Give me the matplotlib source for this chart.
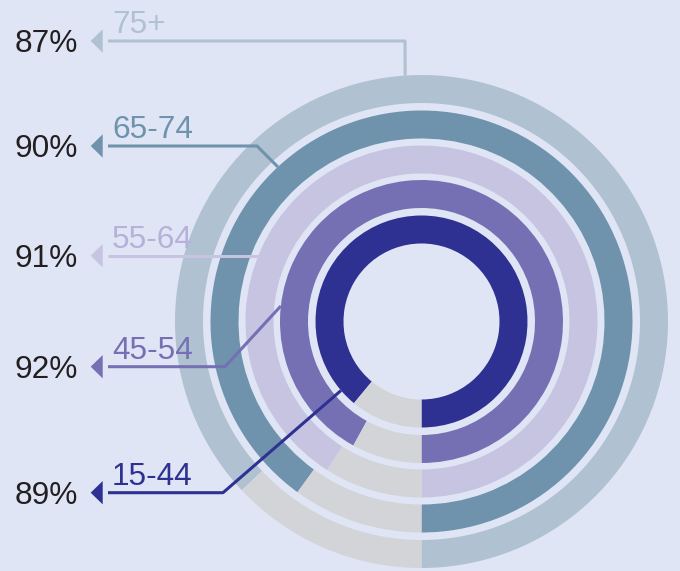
import numpy as np
import matplotlib.pyplot as plt
from matplotlib.patches import Wedge, Polygon

plt.rcParams['font.family'] = ['Liberation Sans', 'DejaVu Sans']

## data
groups = ['75+', '65-74', '55-64', '45-54', '15-44']
pcts = [87, 90, 91, 92, 89]
colors = ['#b0c1d1', '#6f93ad', '#c7c4e2', '#7570b4', '#2e3192']
label_colors = ['#b0c1d1', '#6f93ad', '#b5b1da', '#7570b4', '#2e3192']
rest_color = '#d3d4d8'
bg = '#dfe5f4'

W, H = 680, 571
cx, cy = 421.5, H - 321.5
r_outer = [246.5, 211, 176, 141.5, 106]
ring_w = 28

# leader layout (pixel rows from top)
line_y = [41, 146, 255.7, 366.7, 492.7]
elbow_x = [405, 257, None, 225, 223]
end_ang = [93.8, 132.9, None, 173.7, 220.6]

fig = plt.figure(figsize=(6.8, 5.71), dpi=100, facecolor=bg)
ax = fig.add_axes([0, 0, 1, 1])
ax.set_xlim(0, W)
ax.set_ylim(0, H)
ax.set_aspect('equal')
ax.axis('off')

for r, p, c in zip(r_outer, pcts, colors):
    a = 270 + p / 100 * 360
    ax.add_patch(Wedge((cx, cy), r, 270, a, width=ring_w, color=c, lw=0))
    ax.add_patch(Wedge((cx, cy), r, a, 630, width=ring_w, color=rest_color, lw=0))

for i, (g, p, c) in enumerate(zip(groups, pcts, colors)):
    y = H - line_y[i]
    r = r_outer[i]
    if end_ang[i] is None:
        dy = y - cy
        ex, ey = cx - np.sqrt(r**2 - dy**2), y
        ox = ex
    else:
        t = np.radians(end_ang[i])
        ex, ey = cx + r * np.cos(t), cy + r * np.sin(t)
        ox = elbow_x[i]
    ax.plot([108, ox, ex], [y, y, ey], color=c, lw=2.2, solid_capstyle='butt', zorder=5)
    ax.add_patch(Polygon([[90.7, y], [102.7, y + 11.7], [102.7, y - 11.7]], closed=True,
                         color=c, lw=0, zorder=5))
    ax.text(112, y + 8, g, color=label_colors[i], fontsize=22.8, va='baseline', ha='left')
    ax.text(15, y - 11, f'{p}%', color='#231f20', fontsize=22.8, va='baseline', ha='left')

plt.savefig('out.png', dpi=100, facecolor=bg)
